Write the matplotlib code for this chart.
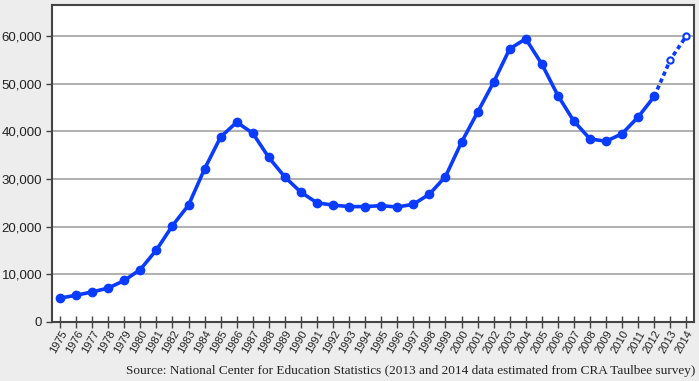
import matplotlib
matplotlib.use("Agg")
import matplotlib.pyplot as plt
from matplotlib.ticker import FuncFormatter
from matplotlib.transforms import ScaledTranslation

years = list(range(1975, 2015))
values = [5000, 5600, 6300, 7100, 8700, 11000, 15100, 20200, 24500, 32100,
          38800, 41900, 39600, 34500, 30400, 27200, 25000, 24500, 24200, 24200,
          24400, 24100, 24700, 26800, 30500, 37700, 44000, 50300, 57300, 59400,
          54100, 47500, 42100, 38400, 37900, 39500, 43000, 47300, 55000, 60000]
n_actual = 38  # 1975-2012 actual, 2013-2014 estimated

source = "Source: National Center for Education Statistics (2013 and 2014 data estimated from CRA Taulbee survey)"

blue = "#0A3CFF"
fig = plt.figure(figsize=(6.99, 3.81), dpi=100, facecolor="#EDEDED")
ax = fig.add_axes([0.0744, 0.155, 0.919, 0.832])
ax.set_facecolor("white")

ax.plot(years[:n_actual], values[:n_actual], color=blue, lw=2.6, marker="o",
        ms=6, zorder=3)
ax.plot(years[n_actual - 1:], values[n_actual - 1:], color=blue, lw=2.6,
        ls=(0, (1.2, 0.9)), zorder=3)
ax.plot(years[n_actual:], values[n_actual:], ls="none", marker="o", ms=4.5,
        mfc="white", mec=blue, mew=1.5, zorder=4)

ax.set_xlim(1974.5, 2014.5)
ax.set_ylim(0, 66500)
ax.set_yticks(range(0, 60001, 10000))
ax.yaxis.set_major_formatter(FuncFormatter(lambda v, p: f"{int(v):,}"))
ax.set_xticks(years)
ax.set_xticklabels([str(y) for y in years], rotation=60, ha="right",
                   rotation_mode="anchor", fontsize=8, family="Liberation Sans",
                   color="#222222")
offset = ScaledTranslation(3 / 100, 0, fig.dpi_scale_trans)
for lbl in ax.get_xticklabels():
    lbl.set_transform(lbl.get_transform() + offset)
for lbl in ax.get_yticklabels():
    lbl.set_family("Liberation Sans")
    lbl.set_fontsize(9.5)
    lbl.set_color("#222222")

ax.grid(axis="y", color="#AAAAAA", lw=1.3)
ax.set_axisbelow(True)
for s in ax.spines.values():
    s.set_color("#444444")
    s.set_linewidth(1.5)
ax.tick_params(axis="x", direction="inout", length=8, width=1, color="#444444", pad=1)
ax.tick_params(axis="y", direction="out", length=4, width=1, color="#444444", pad=3)

fig.text(0.995, 0.025, source, ha="right", va="center", fontsize=9.5,
         family="Liberation Serif", color="#222222")

fig.savefig("out.png", dpi=100, facecolor=fig.get_facecolor())
